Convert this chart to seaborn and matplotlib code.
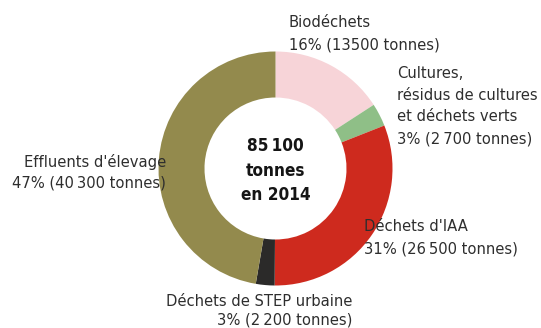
import matplotlib
matplotlib.use("Agg")
import matplotlib.pyplot as plt
import seaborn as sns

sns.set_theme(style="white")
plt.rcParams["font.family"] = ["DejaVu Sans"]

# Gisement de biomasse méthanisable, 2014
categories = ["Biodéchets", "Cultures", "Déchets d'IAA", "Déchets de STEP urbaine", "Effluents d'élevage"]
tonnes = [13500, 2700, 26500, 2200, 40300]
percents = [16, 3, 31, 3, 47]
colors = ["#F7D4D8", "#8FBF87", "#CE2A1E", "#2B2A29", "#938A4D"]
label_lines = [
    ["Biodéchets", "16% (13500 tonnes)"],
    ["Cultures,", "résidus de cultures", "et déchets verts", "3% (2\u2009700 tonnes)"],
    ["Déchets d'IAA", "31% (26\u2009500 tonnes)"],
    ["Déchets de STEP urbaine", "3% (2\u2009200 tonnes)"],
    ["Effluents d'élevage", "47% (40\u2009300 tonnes)"],
]
total_lines = ["85\u2009100", "tonnes", "en 2014"]

W, H = 541, 328
fig = plt.figure(figsize=(W / 100, H / 100), dpi=100)
ax = fig.add_axes([0, 0, 1, 1])

cx, cy, r_out, r_in = 275.5, H - 168.5, 117, 71
ax.pie(tonnes, colors=colors, startangle=90, counterclock=False,
       center=(cx, cy), radius=r_out, frame=True,
       wedgeprops=dict(width=r_out - r_in, linewidth=0))
ax.set_xlim(0, W)
ax.set_ylim(0, H)
ax.set_aspect("equal")
ax.axis("off")

style = dict(fontsize=11.8, color="#2e2e2e", fontstretch="condensed")
# first baseline (pixels from top), anchor x, alignment, line step
places = [
    (27, 289, "left", 22),
    (78, 397, "left", 21.7),
    (231, 364, "left", 22),
    (306, 352, "right", 18.5),
    (167, 166, "right", 21),
]
for lines, (y0, x, ha, step) in zip(label_lines, places):
    for i, line in enumerate(lines):
        ax.text(x, H - (y0 + i * step), line, ha=ha, va="baseline", **style)

for i, line in enumerate(total_lines):
    ax.text(cx, H - (151 + i * 24.5), line, ha="center", va="baseline",
            fontsize=12.3, fontweight="bold", fontstretch="condensed",
            color="#151515")

fig.savefig("out.png", dpi=100)
